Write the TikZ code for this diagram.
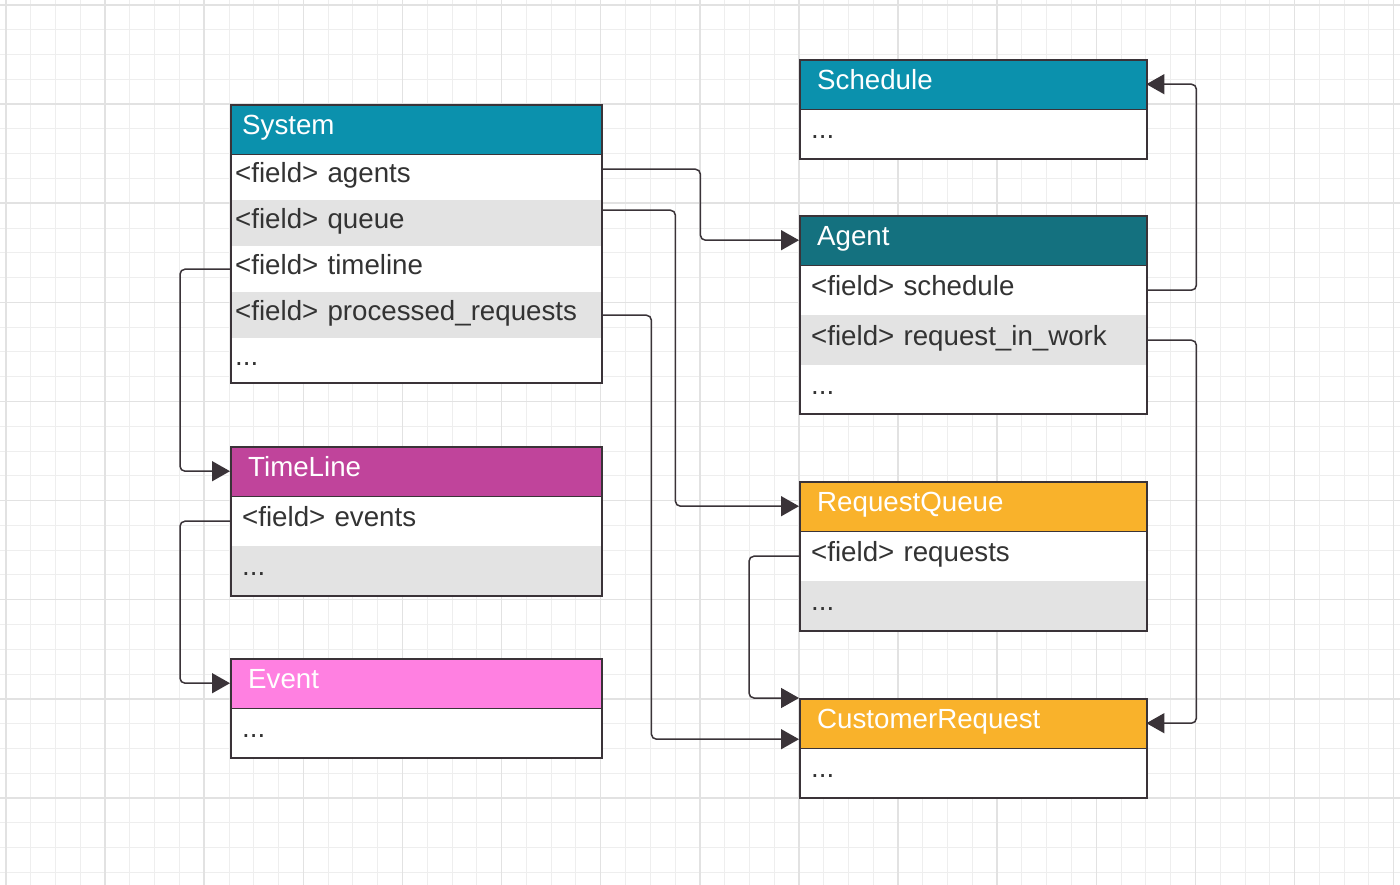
\documentclass[tikz,border=0pt]{standalone}
\usepackage{fontspec}
\newfontfamily\lsans{Liberation Sans}
\usetikzlibrary{arrows.meta}
\definecolor{teal1}{HTML}{0B91AD}
\definecolor{teal2}{HTML}{14717F}
\definecolor{tlc}{HTML}{C0449B}
\definecolor{evc}{HTML}{FF80E1}
\definecolor{orc}{HTML}{F9B22B}
\definecolor{rowgray}{HTML}{E3E3E3}
\definecolor{edge}{HTML}{3A3338}
\definecolor{txt}{HTML}{333333}
\definecolor{gridminor}{HTML}{EEEEEE}
\definecolor{gridmajor}{HTML}{E2E2E2}
\newcommand{\cellfont}{\lsans\fontsize{27.7}{31}\selectfont}
\tikzset{
  cell/.style={rectangle, anchor=north west, inner ysep=0pt, text height=15pt, text depth=5pt, align=left, font=\cellfont, text=txt},
  hdr/.style={cell, text=white},
  sysh/.style={minimum width=371pt, inner xsep=12pt, text width=347pt},
  sysr/.style={minimum width=371pt, inner xsep=5pt, text width=361pt},
  lh/.style={minimum width=371pt, inner xsep=18pt, text width=335pt},
  lr/.style={minimum width=371pt, inner xsep=12pt, text width=347pt},
  rh/.style={minimum width=347pt, inner xsep=18pt, text width=311pt},
  rr/.style={minimum width=347pt, inner xsep=12pt, text width=323pt},
  gray/.style={fill=rowgray},
  frame/.style={rectangle, anchor=north west, draw=edge, line width=1.6pt, inner sep=0pt},
  sepline/.style={draw=edge, line width=1.6pt},
  conn/.style={draw=edge, line width=1.5pt, rounded corners=5pt, -{Triangle[length=18pt,width=20pt]}},
}
\begin{document}
\begin{tikzpicture}[x=1pt,y=-1pt]
\useasboundingbox (0,0) rectangle (1400,885);
\fill[white] (0,0) rectangle (1400,885);
% grid
\foreach \k in {0,...,56}{\pgfmathsetmacro\xx{6+24.78*\k}\draw[gridminor, line width=1pt] (\xx,0) -- (\xx,885);}
\foreach \k in {0,...,35}{\pgfmathsetmacro\yy{5+24.78*\k}\draw[gridminor, line width=1pt] (0,\yy) -- (1400,\yy);}
\foreach \k in {0,4,...,56}{\pgfmathsetmacro\xx{6+24.78*\k}\draw[gridmajor, line width=1.5pt] (\xx,0) -- (\xx,885);}
\foreach \k in {0,4,...,32}{\pgfmathsetmacro\yy{5+24.78*\k}\draw[gridmajor, line width=1.5pt] (0,\yy) -- (1400,\yy);}

% System
\node[hdr, sysh, fill=teal1, minimum height=50pt] (sys-h) at (230,104) {System};
\node[cell, sysr, fill=white, minimum height=46pt] (sys-agents) at (230,154) {<field> agents};
\node[cell, sysr, gray, minimum height=46pt] (sys-queue) at (230,200) {<field> queue};
\node[cell, sysr, fill=white, minimum height=46pt] (sys-timeline) at (230,246) {<field> timeline};
\node[cell, sysr, gray, minimum height=46pt] (sys-proc) at (230,292) {<field> processed\_requests};
\node[cell, sysr, fill=white, minimum height=44pt] (sys-dots) at (230,338) {...};
\node[frame, minimum width=371pt, minimum height=278pt] (sys) at (230,104) {};
\draw[sepline] (sys-h.south west) -- (sys-h.south east);

% TimeLine
\node[hdr, lh, fill=tlc, minimum height=50pt] (tl-h) at (230,446) {TimeLine};
\node[cell, lr, fill=white, minimum height=50pt] (tl-events) at (230,496) {<field> events};
\node[cell, lr, gray, minimum height=49pt] (tl-dots) at (230,546) {...};
\node[frame, minimum width=371pt, minimum height=149pt] (tl) at (230,446) {};
\draw[sepline] (tl-h.south west) -- (tl-h.south east);

% Event
\node[hdr, lh, fill=evc, minimum height=50pt] (ev-h) at (230,658) {Event};
\node[cell, lr, fill=white, minimum height=49pt] (ev-dots) at (230,708) {...};
\node[frame, minimum width=371pt, minimum height=99pt] (ev) at (230,658) {};
\draw[sepline] (ev-h.south west) -- (ev-h.south east);

% Schedule
\node[hdr, rh, fill=teal1, minimum height=50pt] (sch-h) at (799,59) {Schedule};
\node[cell, rr, fill=white, minimum height=49pt] (sch-dots) at (799,109) {...};
\node[frame, minimum width=347pt, minimum height=99pt] (sch) at (799,59) {};
\draw[sepline] (sch-h.south west) -- (sch-h.south east);

% Agent
\node[hdr, rh, fill=teal2, minimum height=50pt] (ag-h) at (799,215) {Agent};
\node[cell, rr, fill=white, minimum height=50pt] (ag-sched) at (799,265) {<field> schedule};
\node[cell, rr, gray, minimum height=50pt] (ag-riw) at (799,315) {<field> request\_in\_work};
\node[cell, rr, fill=white, minimum height=48pt] (ag-dots) at (799,365) {...};
\node[frame, minimum width=347pt, minimum height=198pt] (ag) at (799,215) {};
\draw[sepline] (ag-h.south west) -- (ag-h.south east);

% RequestQueue
\node[hdr, rh, fill=orc, minimum height=50pt] (rq-h) at (799,481) {RequestQueue};
\node[cell, rr, fill=white, minimum height=50pt] (rq-req) at (799,531) {<field> requests};
\node[cell, rr, gray, minimum height=49pt] (rq-dots) at (799,581) {...};
\node[frame, minimum width=347pt, minimum height=149pt] (rq) at (799,481) {};
\draw[sepline] (rq-h.south west) -- (rq-h.south east);

% CustomerRequest
\node[hdr, rh, fill=orc, minimum height=50pt] (cr-h) at (799,698) {CustomerRequest};
\node[cell, rr, fill=white, minimum height=49pt] (cr-dots) at (799,748) {...};
\node[frame, minimum width=347pt, minimum height=99pt] (cr) at (799,698) {};
\draw[sepline] (cr-h.south west) -- (cr-h.south east);

% connectors
\draw[conn] ([yshift=8pt]sys-agents.east) -- ++(99,0) |- (ag-h.west);
\draw[conn] ([yshift=13pt]sys-queue.east) -- ++(74,0) |- (rq-h.west);
\draw[conn] (sys-timeline.west) -- ++(-50,0) |- (tl-h.west);
\draw[conn] (sys-proc.east) -- ++(50,0) |- ([yshift=-16pt]cr-h.west);
\draw[conn] (tl-events.west) -- ++(-50,0) |- (ev-h.west);
\draw[conn] (ag-sched.east) -- ++(50,0) |- (sch-h.east);
\draw[conn] (ag-riw.east) -- ++(50,0) |- (cr-h.east);
\draw[conn] (rq-req.west) -- ++(-50,0) |- (cr-h.north west);
\end{tikzpicture}
\end{document}
